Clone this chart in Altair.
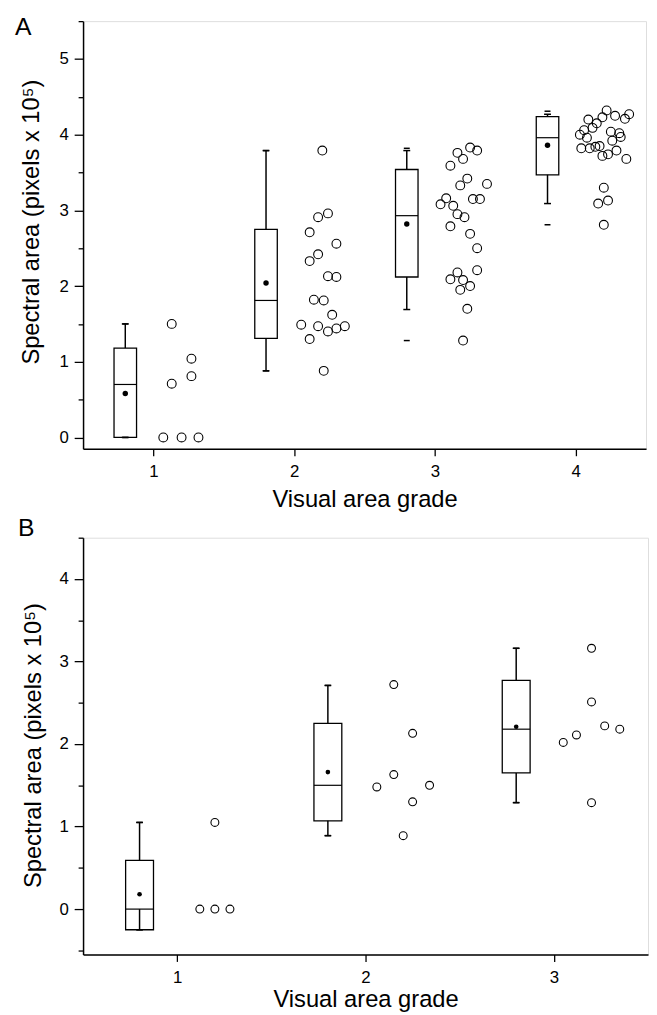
import altair as alt
import pandas as pd

FONT = "Liberation Sans"

# ---------------- Panel A ----------------
a_grades = [1, 2, 3, 4]
a_q1 = [0.0, 1.31, 2.12, 3.47]
a_q3 = [1.18, 2.75, 3.54, 4.24]
a_median = [0.70, 1.81, 2.93, 3.96]
a_mean = [0.58, 2.04, 2.82, 3.86]
a_whisk_lo = [0.0, 0.88, 1.69, 3.09]
a_whisk_lo_end = [0.0, 1.31, 2.12, 3.47]
a_whisk_hi = [1.50, 3.79, 3.79, 4.27]
a_min = [0.0, 0.88, 1.28, 2.81]
a_max = [1.50, 3.79, 3.82, 4.31]

a_pt_x = [
    1.13, 1.13, 1.27, 1.27, 1.07, 1.20, 1.32,
    2.20, 2.24, 2.17, 2.11, 2.30, 2.17, 2.11, 2.24, 2.30, 2.14, 2.21, 2.27,
    2.05, 2.17, 2.24, 2.30, 2.36, 2.11, 2.21,
    3.25, 3.30, 3.16, 3.20, 3.11, 3.23, 3.37, 3.18, 3.08, 3.27, 3.32, 3.04,
    3.13, 3.16, 3.21, 3.11, 3.25, 3.30, 3.30, 3.16, 3.11, 3.20, 3.25, 3.18,
    3.23, 3.20,
    4.22, 4.38, 4.28, 4.19, 4.35, 4.09, 4.15, 4.12, 4.06, 4.25, 4.03, 4.31,
    4.08, 4.32, 4.26, 4.04, 4.10, 4.14, 4.17, 4.29, 4.23, 4.19, 4.36, 4.20,
    4.23, 4.16, 4.20,
]
a_pt_y = [
    1.50, 0.71, 1.04, 0.81, 0.0, 0.0, 0.0,
    3.79, 2.96, 2.91, 2.71, 2.56, 2.42, 2.33, 2.13, 2.12, 1.82, 1.81, 1.62,
    1.49, 1.47, 1.40, 1.44, 1.47, 1.30, 0.88,
    3.83, 3.79, 3.76, 3.68, 3.59, 3.42, 3.35, 3.33, 3.16, 3.15, 3.15, 3.08,
    3.06, 2.95, 2.91, 2.79, 2.69, 2.50, 2.21, 2.18, 2.09, 2.08, 2.00, 1.95,
    1.70, 1.28,
    4.32, 4.27, 4.25, 4.23, 4.21, 4.20, 4.15, 4.09, 4.06, 4.04, 4.00, 4.02,
    3.96, 3.97, 3.92, 3.82, 3.82, 3.84, 3.85, 3.79, 3.74, 3.72, 3.68, 3.30,
    3.13, 3.09, 2.81,
]

# ---------------- Panel B ----------------
b_grades = [1, 2, 3]
b_q1 = [-0.25, 1.07, 1.65]
b_q3 = [0.59, 2.25, 2.77]
b_median = [0.0, 1.50, 2.18]
b_mean = [0.18, 1.66, 2.21]
b_whisk_lo = [-0.25, 0.89, 1.29]
b_whisk_lo_end = [0.0, 1.07, 1.65]
b_whisk_hi = [1.05, 2.71, 3.16]
b_min = [-0.25, 0.89, 1.29]
b_max = [1.05, 2.71, 3.16]

b_pt_x = [1.12, 1.20, 1.28, 1.20,
          2.15, 2.25, 2.15, 2.06, 2.34, 2.25, 2.20,
          3.20, 3.20, 3.27, 3.35, 3.12, 3.05, 3.20]
b_pt_y = [0.0, 0.0, 0.0, 1.05,
          2.72, 2.13, 1.63, 1.48, 1.50, 1.30, 0.89,
          3.16, 2.51, 2.22, 2.18, 2.11, 2.02, 1.29]

X_TITLE = "Visual area grade"
Y_TITLE = "Spectral area (pixels x 10\u2075)"

MINOR = "datum.value % 1 !== 0"


def panel(grades, q1, q3, med, mean, wlo, wlo_end, whi, mn, mx, px, py,
          xdom, ydom, yvals, w, h, half, cap, label, lab_x, lab_y,
          ytx, yty, xty, pt_size, mean_size):
    box = pd.DataFrame({"grade": grades, "q1": q1, "q3": q3, "med": med,
                        "mean": mean, "wlo": wlo, "wlo_end": wlo_end,
                        "whi": whi, "mn": mn, "mx": mx})
    box["pos"] = box["grade"] - 0.2
    box["lo"] = box["pos"] - half
    box["hi"] = box["pos"] + half
    pts = pd.DataFrame({"x": px, "y": py})

    xs = alt.Scale(domain=xdom, nice=False, zero=False)
    ys = alt.Scale(domain=ydom, nice=False, zero=False)
    xaxis = alt.Axis(values=grades, format="d", grid=False, title=X_TITLE,
                     titleY=xty, titleBaseline="alphabetic")
    yaxis = alt.Axis(values=yvals, grid=False, title=Y_TITLE,
                     labelExpr="datum.value % 1 ? '' : format(datum.value, 'd')",
                     labelFontSize={"condition": {"test": MINOR, "value": 1}, "value": 17},
                     tickSize={"condition": {"test": MINOR, "value": 5}, "value": 9},
                     titleX=ytx, titleY=yty, titleAngle=270,
                     titleBaseline="alphabetic", titleAlign="center")

    def X(f):
        return alt.X(f, type="quantitative", scale=xs, axis=xaxis)

    def Y(f):
        return alt.Y(f, type="quantitative", scale=ys, axis=yaxis)

    base = alt.Chart(box)
    upper = base.mark_rule(color="black", strokeWidth=1.5).encode(
        x=X("pos"), y=Y("q3"), y2="whi")
    rect = base.mark_rect(fill="white", stroke="black", strokeWidth=1.3).encode(
        x=X("lo"), x2="hi", y=Y("q1"), y2="q3")
    lower = base.mark_rule(color="black", strokeWidth=1.5).encode(
        x=X("pos"), y=Y("wlo"), y2="wlo_end")
    median = base.mark_rule(color="black", strokeWidth=1.2).encode(
        x=X("lo"), x2="hi", y=Y("med"))
    cap_hi = base.mark_tick(orient="horizontal", size=cap, thickness=1.5,
                            color="black", opacity=1).encode(x=X("pos"), y=Y("whi"))
    cap_lo = base.mark_tick(orient="horizontal", size=cap, thickness=1.5,
                            color="black", opacity=1).encode(x=X("pos"), y=Y("wlo"))
    dmin = base.mark_tick(orient="horizontal", size=cap - 1, thickness=1.5,
                          color="black", opacity=1).encode(x=X("pos"), y=Y("mn"))
    dmax = base.mark_tick(orient="horizontal", size=cap - 1, thickness=1.5,
                          color="black", opacity=1).encode(x=X("pos"), y=Y("mx"))
    meanpt = base.mark_point(filled=True, color="black", size=mean_size,
                             opacity=1, shape="circle").encode(x=X("pos"), y=Y("mean"))
    scatter = alt.Chart(pts).mark_point(shape="circle", filled=False,
                                        color="black", strokeWidth=1.1,
                                        size=pt_size, opacity=1).encode(
        x=X("x"), y=Y("y"))
    txt = alt.Chart(pd.DataFrame({"t": [label]})).mark_text(
        align="left", baseline="alphabetic", fontSize=25, font=FONT,
        color="black").encode(x=alt.value(lab_x), y=alt.value(lab_y), text="t:N")

    return alt.layer(upper, rect, lower, median, cap_hi, cap_lo, dmin, dmax,
                     meanpt, scatter, txt).properties(width=w, height=h)


pa = panel(a_grades, a_q1, a_q3, a_median, a_mean, a_whisk_lo, a_whisk_lo_end,
           a_whisk_hi, a_min, a_max, a_pt_x, a_pt_y,
           [0.5, 4.5], [-0.15, 5.5], [i * 0.5 for i in range(0, 12)],
           570, 433, 0.08, 7, "A", -69, 14, -45, 203, 58, 80, 30)
pb = panel(b_grades, b_q1, b_q3, b_median, b_mean, b_whisk_lo, b_whisk_lo_end,
           b_whisk_hi, b_min, b_max, b_pt_x, b_pt_y,
           [0.5, 3.5], [-0.55, 4.5], [i * 0.5 for i in range(-1, 10)],
           572, 422, 0.074, 7, "B", -66, -2, -43, 210, 53, 64, 22)

chart = alt.vconcat(pa, pb, spacing=3).properties(
    padding={"left": 6, "top": 0, "right": 0, "bottom": 0}
).configure_view(stroke=None).configure(font=FONT).configure_axis(
    domainColor="black", domainWidth=1.5, tickColor="black", tickWidth=1.3,
    labelColor="black", labelFont=FONT, labelFontSize=17, labelPadding=6,
    titleColor="black", titleFont=FONT, titleFontSize=24, titleFontWeight="normal"
).configure_axisX(tickSize=7, labelPadding=8)

chart.save("out.html", embed_options={"renderer": "svg", "actions": False})
